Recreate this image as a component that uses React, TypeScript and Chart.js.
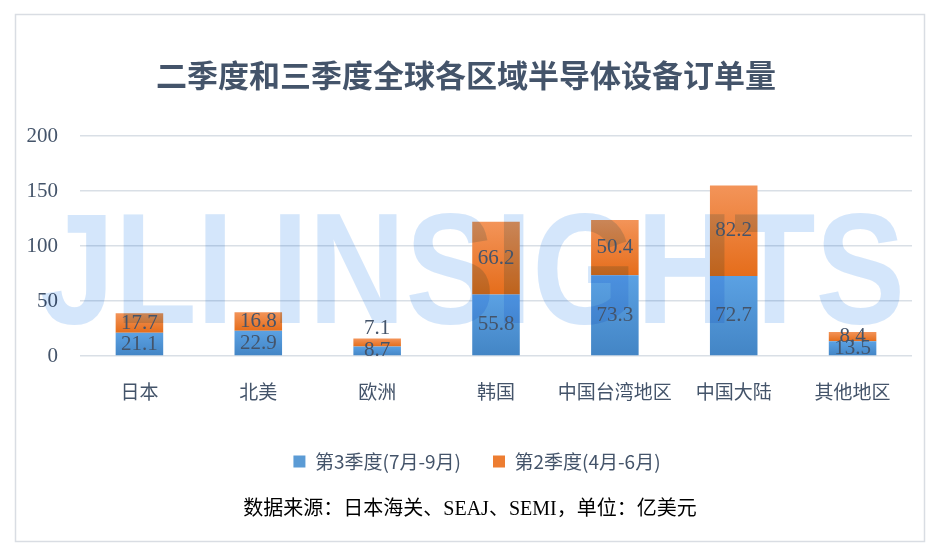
import React, { useEffect, useRef } from "react";
import { Chart, registerables } from "chart.js";

Chart.register(...registerables);

const TITLE = "二季度和三季度全球各区域半导体设备订单量";
const FOOTER = "数据来源：日本海关、SEAJ、SEMI，单位：亿美元";
const WATERMARK = "JLI INSIGHTS";

const categories = ["日本", "北美", "欧洲", "韩国", "中国台湾地区", "中国大陆", "其他地区"];
const seriesNames = ["第3季度(7月-9月)", "第2季度(4月-6月)"];
const q3Values = [21.1, 22.9, 8.7, 55.8, 73.3, 72.7, 13.5];
const q2Values = [17.7, 16.8, 7.1, 66.2, 50.4, 82.2, 8.4];
const yTicks = [0, 50, 100, 150, 200];

const TEXT = "#44546a";
const SERIF = "'Liberation Serif', 'Noto Sans CJK SC', serif";
const CJK = "'Noto Sans CJK SC', sans-serif";

const BLUE = ["#5ba1e3", "#4385c5"];
const ORANGE = ["#f39459", "#e56d1b"];

function makeGradient(chart: any, dsIndex: number, i: number) {
  const y = chart.scales?.y;
  if (!chart.chartArea || !y) return dsIndex === 0 ? BLUE[0] : ORANGE[0];
  const base = dsIndex === 0 ? 0 : q3Values[i];
  const top = dsIndex === 0 ? q3Values[i] : q3Values[i] + q2Values[i];
  const yTop = y.getPixelForValue(top);
  const yBot = y.getPixelForValue(base);
  const g = chart.ctx.createLinearGradient(0, yTop, 0, yBot === yTop ? yTop + 1 : yBot);
  const c = dsIndex === 0 ? BLUE : ORANGE;
  g.addColorStop(0, c[0]);
  g.addColorStop(1, c[1]);
  return g;
}

const framePlugin = {
  id: "frame",
  afterLayout(chart: any) {
    const lg = chart.legend;
    if (lg) {
      lg.left += 21;
      lg.right += 21;
    }
  },
  beforeDraw(chart: any) {
    const ctx = chart.ctx;
    ctx.save();
    ctx.fillStyle = "#ffffff";
    ctx.fillRect(0, 0, chart.width, chart.height);
    ctx.strokeStyle = "#d9dde3";
    ctx.lineWidth = 1.5;
    ctx.strokeRect(15.5, 14.5, 909, 527);
    ctx.fillStyle = TEXT;
    ctx.font = `bold 31px ${CJK}`;
    ctx.textAlign = "center";
    ctx.textBaseline = "middle";
    ctx.fillText(TITLE, 466, 75);
    ctx.fillStyle = "#000000";
    ctx.font = `20px ${SERIF}`;
    ctx.fillText(FOOTER, 470, 510);
    ctx.restore();
  },
  afterDatasetsDraw(chart: any) {
    const ctx = chart.ctx;
    // watermark
    ctx.save();
    ctx.globalCompositeOperation = "multiply";
    ctx.fillStyle = "#d4e6fb";
    ctx.font = `bold 158px 'Liberation Sans', sans-serif`;
    ctx.textBaseline = "alphabetic";
    ctx.textAlign = "left";
    const w = ctx.measureText(WATERMARK).width;
    const target = 865;
    ctx.translate(40, 323);
    ctx.scale(target / w, 1);
    ctx.fillText(WATERMARK, 0, 0);
    ctx.restore();
    // data labels
    ctx.save();
    ctx.fillStyle = TEXT;
    ctx.font = `21px ${SERIF}`;
    ctx.textAlign = "center";
    ctx.textBaseline = "middle";
    chart.data.datasets.forEach((ds: any, di: number) => {
      const meta = chart.getDatasetMeta(di);
      meta.data.forEach((el: any, i: number) => {
        let cy = (el.y + el.base) / 2;
        if (di === 1 && categories[i] === "欧洲") cy = el.y - 10;
        ctx.fillText(String(ds.data[i]), el.x, cy);
      });
    });
    ctx.restore();
  },
};

export default function App() {
  const ref = useRef<HTMLCanvasElement | null>(null);
  useEffect(() => {
    if (!ref.current) return;
    const chart = new Chart(ref.current, {
      type: "bar",
      data: {
        labels: categories,
        datasets: [
          {
            label: seriesNames[0],
            data: q3Values,
            backgroundColor: (c: any) => makeGradient(c.chart, 0, c.dataIndex),
            borderWidth: 0,
          },
          {
            label: seriesNames[1],
            data: q2Values,
            backgroundColor: (c: any) => makeGradient(c.chart, 1, c.dataIndex),
            borderWidth: 0,
          },
        ],
      },
      options: {
        animation: false,
        responsive: false,
        devicePixelRatio: 1,
        layout: { padding: { left: 0, right: 28, top: 136, bottom: 74 } },
        datasets: { bar: { categoryPercentage: 1, barPercentage: 0.4 } },
        scales: {
          x: {
            stacked: true,
            grid: { display: false, drawTicks: false },
            border: { display: false },
            ticks: {
              color: TEXT,
              font: { family: SERIF, size: 19 },
              padding: 27,
              maxRotation: 0,
              minRotation: 0,
              autoSkip: false,
            },
            afterFit: (s: any) => { s.height = 64; },
          },
          y: {
            stacked: true,
            min: 0,
            max: 200,
            afterBuildTicks: (s: any) => { s.ticks = yTicks.map((v) => ({ value: v })); },
            grid: { color: "#d9dfe6", lineWidth: 1.5, drawTicks: false },
            border: { display: false },
            ticks: { color: TEXT, font: { family: SERIF, size: 21 }, padding: 22 },
            afterFit: (s: any) => { s.width = 80; },
          },
        },
        plugins: {
          title: { display: false },
          tooltip: { enabled: false },
          legend: {
            display: true,
            position: "bottom",
            labels: {
              color: TEXT,
              font: { family: CJK, size: 19 },
              boxWidth: 12,
              boxHeight: 12,
              padding: 32,
              generateLabels: (ch: any) =>
                ch.data.datasets.map((ds: any, i: number) => ({
                  text: ds.label,
                  fillStyle: i === 0 ? "#5b9bd5" : "#ed7d31",
                  strokeStyle: "rgba(0,0,0,0)",
                  lineWidth: 0,
                  hidden: false,
                  datasetIndex: i,
                  fontColor: TEXT,
                })),
            },
          },
        },
      },
      plugins: [framePlugin],
    });
    return () => chart.destroy();
  }, []);
  return (
    <div style={{ position: "fixed", left: 0, top: 0, width: 940, height: 555, background: "#fff" }}>
      <canvas ref={ref} width={940} height={555} style={{ width: 940, height: 555, display: "block" }} />
    </div>
  );
}
